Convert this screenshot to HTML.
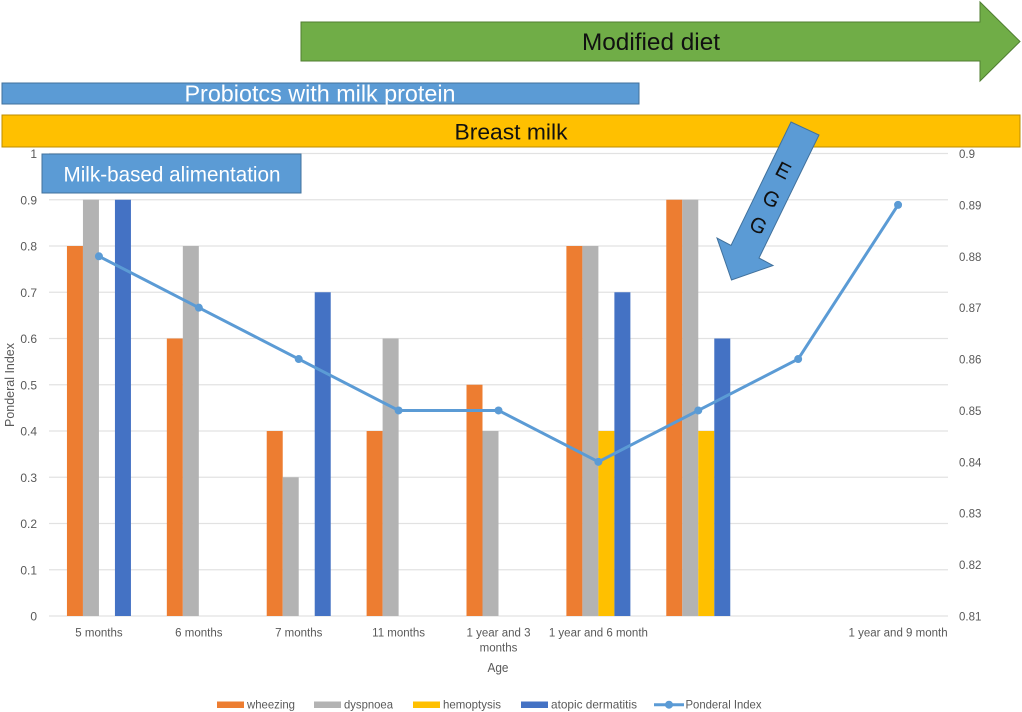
<!DOCTYPE html>
<html lang="en">
<head>
<meta charset="utf-8">
<title>Ponderal Index chart</title>
<style>
html,body{margin:0;padding:0;background:#fff}
svg{display:block}
text{font-family:"Liberation Sans",sans-serif}
</style>
</head>
<body>
<svg id="chart" xmlns="http://www.w3.org/2000/svg" width="1022" height="712" viewBox="0 0 1022 712">
  <g id="grid"></g>
  <g id="bars"></g>
  <g id="line"></g>
  <g id="yleft"></g>
  <g id="yright"></g>
  <g id="xaxis"></g>

  <text transform="translate(14 385) rotate(-90)" text-anchor="middle" font-size="13" fill="#595959" textLength="84" lengthAdjust="spacingAndGlyphs">Ponderal Index</text>
  <text x="498" y="672" text-anchor="middle" font-size="13" fill="#595959" textLength="21" lengthAdjust="spacingAndGlyphs">Age</text>

  <g>
    <polygon points="301,22 980,22 980,2 1020,41.5 980,81 980,61 301,61" fill="#70ad47" stroke="#507e32" stroke-width="1"/>
    <text x="651" y="50" text-anchor="middle" font-size="24" fill="#111" textLength="138" lengthAdjust="spacingAndGlyphs">Modified diet</text>
  </g>
  <g>
    <rect x="2" y="83" width="637" height="21" fill="#5b9bd5" stroke="#41719c" stroke-width="1"/>
    <text x="320" y="101.5" text-anchor="middle" font-size="23" fill="#fff" textLength="271" lengthAdjust="spacingAndGlyphs">Probiotcs with milk protein</text>
  </g>
  <g>
    <rect x="2" y="115" width="1018" height="32" fill="#ffc000" stroke="#bc8c00" stroke-width="1"/>
    <text x="511" y="139.5" text-anchor="middle" font-size="22.5" fill="#111" textLength="113" lengthAdjust="spacingAndGlyphs">Breast milk</text>
  </g>
  <g>
    <rect x="42" y="154" width="259" height="39" fill="#5b9bd5" stroke="#41719c" stroke-width="1"/>
    <text x="172" y="181.5" text-anchor="middle" font-size="21" fill="#fff" textLength="217" lengthAdjust="spacingAndGlyphs">Milk-based alimentation</text>
  </g>
  <g>
    <polygon points="791,122 819,135 759,258 773,265.5 731.5,280 717,238 731,245.5" fill="#5b9bd5" stroke="#41719c" stroke-width="1"/>
    <text transform="translate(783 171) rotate(27)" text-anchor="middle" dominant-baseline="central" font-size="21" fill="#111">E</text>
    <text transform="translate(771 199.5) rotate(27)" text-anchor="middle" dominant-baseline="central" font-size="21" fill="#111">G</text>
    <text transform="translate(758 226) rotate(27)" text-anchor="middle" dominant-baseline="central" font-size="21" fill="#111">G</text>
  </g>
  <g id="legend"></g>
</svg>
<script>
const categories = [["5 months"],["6 months"],["7 months"],["11 months"],["1 year and 3","months"],["1 year and 6 month"],[""],[""],["1 year and 9 month"]];
const wheezing = [0.8,0.6,0.4,0.4,0.5,0.8,0.9,0,0];
const dyspnoea = [0.9,0.8,0.3,0.6,0.4,0.8,0.9,0,0];
const hemoptysis = [0,0,0,0,0,0.4,0.4,0,0];
const atopicDermatitis = [0.9,0,0.7,0,0,0.7,0.6,0,0];
const ponderalIndex = [0.88,0.87,0.86,0.85,0.85,0.84,0.85,0.86,0.89];
const leftTicks = [0,0.1,0.2,0.3,0.4,0.5,0.6,0.7,0.8,0.9,1];
const rightTicks = [0.81,0.82,0.83,0.84,0.85,0.86,0.87,0.88,0.89,0.9];

const NS = 'http://www.w3.org/2000/svg';
const PL = 49, PR = 948, PB = 616, PT = 153.5, BW = 16;
const xCenter = i => PL + (PR - PL) * (i + 0.5) / categories.length;
const yLeft = v => PB - (PB - PT) * v;
const yRight = v => PB - (PB - PT) * (v - 0.81) / 0.09;
function mk(tag, attrs, parent, txt) {
  const el = document.createElementNS(NS, tag);
  for (const k in attrs) el.setAttribute(k, attrs[k]);
  if (txt !== undefined) el.textContent = txt;
  parent.appendChild(el);
  return el;
}
const grid = document.getElementById('grid');
const barsG = document.getElementById('bars');
const lineG = document.getElementById('line');
const yl = document.getElementById('yleft');
const yr = document.getElementById('yright');
const xa = document.getElementById('xaxis');
const legend = document.getElementById('legend');

leftTicks.forEach(t => {
  const g = mk('line', {x1: PL, x2: PR, y1: yLeft(t), y2: yLeft(t), stroke: '#e2e2e2', 'stroke-width': 1.2}, grid);
  
  
  const l = mk('text', {x: 37, y: yLeft(t) + 4.5, 'text-anchor': 'end', 'font-size': 12, fill: '#595959'}, yl, String(t));
  
  
});
rightTicks.forEach(t => {
  const l = mk('text', {x: 959, y: yRight(t) + 4.5, 'font-size': 11.5, fill: '#595959'}, yr, String(t));
  
  
});

const seriesList = [
  {name: 'wheezing', values: wheezing, color: '#ed7d31'},
  {name: 'dyspnoea', values: dyspnoea, color: '#b3b3b3'},
  {name: 'hemoptysis', values: hemoptysis, color: '#ffc000'},
  {name: 'atopic-dermatitis', values: atopicDermatitis, color: '#4472c4'}
];
seriesList.forEach((s, si) => {
  s.values.forEach((v, i) => {
    if (!v) return;
    const r = mk('rect', {x: xCenter(i) - 2 * BW + si * BW, y: yLeft(v), width: BW, height: PB - yLeft(v), fill: s.color}, barsG);
    
    
  });
});

const pts = ponderalIndex.map((v, i) => xCenter(i) + ',' + yRight(v)).join(' ');
const pl = mk('polyline', {points: pts, fill: 'none', stroke: '#5b9bd5', 'stroke-width': 3, 'stroke-linejoin': 'round'}, lineG);


ponderalIndex.forEach((v, i) => {
  const c = mk('circle', {cx: xCenter(i), cy: yRight(v), r: 4, fill: '#5b9bd5'}, lineG);
  
  
});

categories.forEach((lines, i) => {
  lines.forEach((ln, li) => {
    if (!ln) return;
    const t = mk('text', {x: xCenter(i), y: 636.5 + li * 15, 'text-anchor': 'middle', 'font-size': 11.5, fill: '#595959'}, xa, ln);
    
    
  });
});

const legendNames = ['wheezing', 'dyspnoea', 'hemoptysis', 'atopic dermatitis'];
const legendColors = ['#ed7d31', '#b3b3b3', '#ffc000', '#4472c4'];
const legendX = [217, 314, 413, 521];
const legendWidths = [48, 49, 58, 86];
legendNames.forEach((n, i) => {
  const r = mk('rect', {x: legendX[i], y: 701.5, width: 27, height: 6.5, fill: legendColors[i]}, legend);
  
  
  const t = mk('text', {x: legendX[i] + 30, y: 708.5, 'font-size': 12, fill: '#595959', textLength: legendWidths[i], lengthAdjust: 'spacingAndGlyphs'}, legend, n);
  
  
});
const ll = mk('line', {x1: 654, x2: 684, y1: 704.7, y2: 704.7, stroke: '#5b9bd5', 'stroke-width': 3}, legend);


const lc = mk('circle', {cx: 669, cy: 704.7, r: 4, fill: '#5b9bd5'}, legend);


const lt = mk('text', {x: 685.5, y: 708.5, 'font-size': 12, fill: '#595959', textLength: 76, lengthAdjust: 'spacingAndGlyphs'}, legend, 'Ponderal Index');


</script>
</body>
</html>
